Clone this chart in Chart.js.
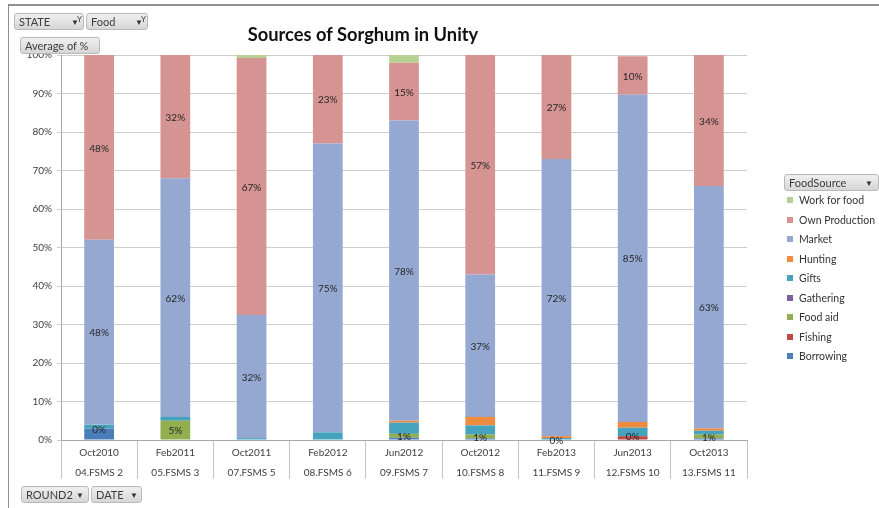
<!DOCTYPE html>
<html>
<head>
<meta charset="utf-8">
<script src="https://cdn.jsdelivr.net/npm/chart.js@4.4.0/dist/chart.umd.min.js"></script>
<style>
  html, body { margin: 0; padding: 0; background: #fff; }
  body { width: 879px; height: 508px; overflow: hidden; font-family: Lato, "Liberation Sans", sans-serif; }
  #wrap { position: relative; width: 879px; height: 508px; }
  #frame { position: absolute; left: 8px; top: 4px; width: 900px; height: 600px;
           border-style: solid; border-color: #8f8f8f; border-width: 2px 0 0 1px; box-sizing: border-box; }
  canvas { position: absolute; left: 0; top: 0; }
  #title { position: absolute; left: 8px; width: 710px; top: 23px; text-align: center;
           font-weight: bold; font-size: 18.3px; color: #111; }
  .btn { position: absolute; height: 17px; border: 1px solid #b9b9b9; border-radius: 3px;
         background: linear-gradient(#f0f0f0, #d6d6d6); font-size: 11px; color: #3c3c3c;
         line-height: 16px; padding-left: 4px; box-sizing: border-box; white-space: nowrap; }
  .arr { position: absolute; top: 0; font-size: 8px; color: #333; }
  .fil { position: absolute; top: -3px; font-size: 8px; color: #333; }
  #legend { position: absolute; left: 786px; top: 192px; font-size: 10.5px; color: #333; }
  .li { position: relative; height: 19.5px; line-height: 16px; padding-left: 13px; white-space: nowrap; }
  .li span { position: absolute; left: 1px; top: 5px; width: 6px; height: 6px; }
</style>
</head>
<body>
<div id="wrap">
  <div id="frame"></div>
  <canvas id="c" width="879" height="508"></canvas>
  <div id="title">Sources of Sorghum in Unity</div>
  <div class="btn" style="left:14px;top:13px;width:70px;">STATE<span class="arr" style="left:56px">▼</span><span class="fil" style="left:62px">Y</span></div>
  <div class="btn" style="left:86px;top:13px;width:62px;">Food<span class="arr" style="left:48px">▼</span><span class="fil" style="left:54px">Y</span></div>
  <div class="btn" style="left:20px;top:37px;width:80px;">Average of %</div>
  <div class="btn" style="left:21px;top:486px;width:68px;">ROUND2<span class="arr" style="left:54px">▼</span></div>
  <div class="btn" style="left:91px;top:486px;width:51px;">DATE<span class="arr" style="left:38px">▼</span></div>
  <div class="btn" style="left:784px;top:174px;width:95px;">FoodSource<span class="arr" style="left:80px">▼</span></div>
  <div id="legend"></div>
</div>
<script>
// Survey dates and rounds (two-level category axis)
const dates  = ['Oct2010','Feb2011','Oct2011','Feb2012','Jun2012','Oct2012','Feb2013','Jun2013','Oct2013'];
const rounds = ['04.FSMS 2','05.FSMS 3','07.FSMS 5','08.FSMS 6','09.FSMS 7','10.FSMS 8','11.FSMS 9','12.FSMS 10','13.FSMS 11'];

// Average share (%) of sorghum by food source, stacked bottom to top
const borrowing     = [3,   0,   0,    0,   0.6, 0.4, 0,   0,   0.4];
const fishing       = [0,   0,   0,    0,   0,   0,   0,   1,   0];
const foodAid       = [0,   5,   null, null, 1,  1,   0,   0,   1];
const gathering     = [0,   0,   0,    0,   0,   0,   0,   0,   0];
const gifts         = [1,   1,   0.5,  2,   2.9, 2.4, 0.5, 2.2, 1.0];
const hunting       = [0,   0,   0,    0,   0.5, 2.2, 0.5, 1.5, 0.6];
const market        = [48,  62,  32,   75,  78,  37,  72,  85,  63];
const ownProduction = [48,  32,  66.7, 23,  15,  57,  27,  10,  34];
const workForFood   = [0,   0,   0.8,  0,   2,   0,   0,   0,   0];

const yTicks = [0,10,20,30,40,50,60,70,80,90,100];

const series = [
  { label: 'Borrowing',      data: borrowing,     color: '#4A7EBB', showLabel: false },
  { label: 'Fishing',        data: fishing,       color: '#BE4B48', showLabel: false },
  { label: 'Food aid',       data: foodAid,       color: '#92AE4F', showLabel: true  },
  { label: 'Gathering',      data: gathering,     color: '#7D60A0', showLabel: false },
  { label: 'Gifts',          data: gifts,         color: '#46A3BE', showLabel: false },
  { label: 'Hunting',        data: hunting,       color: '#EE8B3F', showLabel: false },
  { label: 'Market',         data: market,        color: '#94A8D2', showLabel: true  },
  { label: 'Own Production', data: ownProduction, color: '#D59392', showLabel: true  },
  { label: 'Work for food',  data: workForFood,   color: '#B7D193', showLabel: false }
];

// Percent labels centred in each segment of the labelled series
const segmentLabels = {
  id: 'segmentLabels',
  afterDatasetsDraw(chart) {
    const ctx = chart.ctx;
    ctx.save();
    ctx.font = '10px Lato, "Liberation Sans", sans-serif';
    ctx.fillStyle = '#262626';
    ctx.textAlign = 'center';
    ctx.textBaseline = 'middle';
    chart.data.datasets.forEach((ds, i) => {
      if (!ds.showLabel) return;
      const meta = chart.getDatasetMeta(i);
      meta.data.forEach((bar, j) => {
        const v = ds.data[j];
        if (v === null || v === undefined) return;
        ctx.fillText(Math.round(v) + '%', bar.x, (bar.y + bar.base) / 2 + 1);
      });
    });
    ctx.restore();
  }
};

const chart = new Chart(document.getElementById('c'), {
  type: 'bar',
  data: {
    labels: dates.map((d, i) => [d, rounds[i]]),
    datasets: series.map(s => ({
      label: s.label,
      data: s.data,
      backgroundColor: s.color,
      borderWidth: 0,
      showLabel: s.showLabel,
      barPercentage: 0.39,
      categoryPercentage: 1
    }))
  },
  options: {
    responsive: false,
    animation: false,
    layout: { padding: { left: 0, top: 55, right: 132, bottom: 0 } },
    plugins: { legend: { display: false }, title: { display: false }, tooltip: { enabled: false } },
    scales: {
      x: {
        stacked: true,
        grid: { offset: true, drawOnChartArea: false, drawTicks: true, tickLength: 39, color: '#c4c4c4' },
        border: { display: true, color: '#a8a8a8' },
        ticks: { font: { size: 10, family: 'Lato, "Liberation Sans", sans-serif', lineHeight: 2 },
                 color: '#404040', padding: -36, maxRotation: 0, autoSkip: false },
        afterFit(scale) { scale.height = 68; }
      },
      y: {
        stacked: true,
        min: 0, max: 100,
        afterBuildTicks(scale) { scale.ticks = yTicks.map(v => ({ value: v })); },
        grid: { color: '#cdcdcd', tickLength: 4 },
        border: { display: true, color: '#a8a8a8' },
        ticks: { font: { size: 10, family: 'Lato, "Liberation Sans", sans-serif' }, color: '#404040',
                 padding: 5, callback: v => v + '%' },
        afterFit(scale) { scale.width = 61; }
      }
    }
  },
  plugins: [segmentLabels]
});

// Legend listing, top of stack first
const legend = document.getElementById('legend');
series.slice().reverse().forEach(s => {
  const row = document.createElement('div');
  row.className = 'li';
  const box = document.createElement('span');
  box.style.background = s.color;
  row.appendChild(box);
  row.appendChild(document.createTextNode(s.label));
  legend.appendChild(row);
});
</script>
</body>
</html>
